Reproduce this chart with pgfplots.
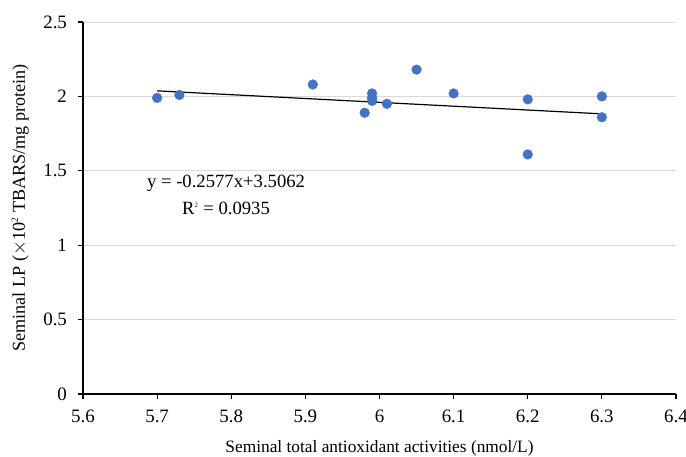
\documentclass[border=0pt]{standalone}
\usepackage{fontspec}
\setmainfont{Liberation Serif}
\usepackage{pgfplots}
\pgfplotsset{compat=1.18}
\definecolor{ptblue}{HTML}{4472C4}
\definecolor{gridgray}{HTML}{D9D9D9}
\begin{document}
\fontsize{13}{15}\selectfont
\begin{tikzpicture}
\useasboundingbox (-62.25pt,-47.25pt) rectangle (452.25pt,295.5pt);
\begin{axis}[
  at={(0,0)}, anchor=origin,
  scale only axis,
  width=444.75pt, height=279pt,
  xmin=5.6, xmax=6.4, ymin=0, ymax=2.5,
  xtick={5.6,5.7,...,6.41}, ytick={0,0.5,...,2.51},
  xticklabels={5.6,5.7,5.8,5.9,6,6.1,6.2,6.3,6.4},
  yticklabels={0,0.5,1,1.5,2,2.5},
  axis x line*=bottom, axis y line*=left,
  axis line style={black, line width=0.8pt},
  tick style={black, line width=0.8pt},
  tick align=outside, major tick length=4pt,
  ymajorgrids, grid style={gridgray, line width=0.6pt},
  /pgf/number format/assume math mode=true,
  tick label style={font=\fontsize{14.2}{16}\selectfont},
  xticklabel style={anchor=base, yshift=-17pt},
  yticklabel style={xshift=-3.5pt},
  xlabel={Seminal total antioxidant activities (nmol/L)},
  ylabel={Seminal LP ($\times$10\textsuperscript{\scriptsize 2} TBARS/mg protein)},
  xlabel style={font=\fontsize{13}{15}\selectfont, at={(axis description cs:0.5,0)}, anchor=base, yshift=-44pt},
  ylabel style={font=\fontsize{13.6}{15}\selectfont, at={(axis description cs:0,0.5)}, anchor=center, yshift=47pt},
  clip=false,
]
\addplot[only marks, mark=*, mark size=3.6pt, mark options={fill=ptblue, draw=ptblue}] coordinates {
(5.70,1.99) (5.73,2.01) (5.91,2.08) (5.98,1.89) (5.99,2.02) (5.99,1.99) (5.99,1.97)
(6.01,1.95) (6.05,2.18) (6.10,2.02) (6.20,1.98) (6.20,1.61) (6.30,2.00) (6.30,1.86)
};
\addplot[black, line width=0.9pt] coordinates {(5.70,2.0373) (6.30,1.8827)};
\node[anchor=center, font=\fontsize{14}{16}\selectfont] at (axis cs:5.793,1.418) {y = -0.2577x+3.5062};
\node[anchor=center, font=\fontsize{14}{16}\selectfont] at (axis cs:5.793,1.25) {R\textsuperscript{\tiny 2} = 0.0935};
\end{axis}
\end{tikzpicture}
\end{document}
